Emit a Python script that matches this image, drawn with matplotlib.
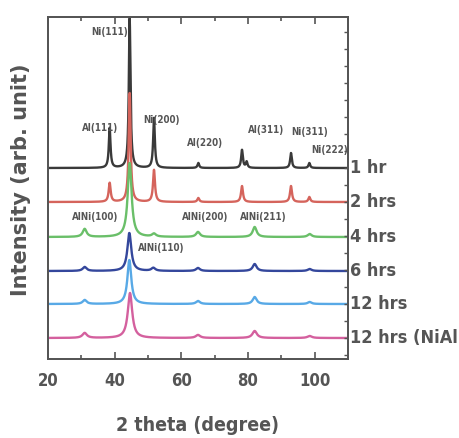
import matplotlib.pyplot as plt
import numpy as np

# sample names and vertical offsets of each pattern (arb. units)
samples = ['1 hr', '2 hrs', '4 hrs', '6 hrs', '12 hrs', '12 hrs (NiAl']
offsets = [191, 157, 122, 88, 55, 21]
colors = ['#3a3a3a', '#d5645c', '#6abf69', '#34479c', '#58a9e6', '#d4609e']

# peak positions (2 theta), heights and widths
pos_1hr = [38.5, 44.5, 51.8, 65.1, 78.2, 79.6, 92.9, 98.4]
hgt_1hr = [40, 150, 50, 5, 18, 6, 15, 5]
pos_2hrs = [38.5, 44.5, 51.8, 65.1, 78.2, 92.9, 98.4]
hgt_2hrs = [19, 109, 32, 4, 16, 16, 5]
pos_4hrs = [31.0, 44.5, 51.8, 65.0, 82.0, 98.5]
hgt_4hrs = [8, 74, 3, 5, 10, 3]
pos_6hrs = [31.0, 44.4, 51.6, 65.0, 82.0, 98.5]
hgt_6hrs = [4, 38, 3, 3, 7, 2]
pos_12hrs = [31.0, 44.4, 65.0, 82.0, 98.5]
hgt_12hrs = [4, 44, 3, 7, 2]
pos_nial = [31.0, 44.6, 65.0, 82.0, 98.5]
hgt_nial = [5, 45, 3, 7, 2]
widths = [0.3, 0.35, 0.7, 0.7, 0.7, 0.8]

peaks = [(pos_1hr, hgt_1hr), (pos_2hrs, hgt_2hrs), (pos_4hrs, hgt_4hrs),
         (pos_6hrs, hgt_6hrs), (pos_12hrs, hgt_12hrs), (pos_nial, hgt_nial)]

# peak labels: text, x, y
labels = [('Ni(111)', 38.6, 327), ('Al(111)', 35.5, 231), ('Ni(200)', 54.0, 239),
          ('Al(220)', 67.0, 216), ('Al(311)', 85.5, 229), ('Ni(311)', 98.5, 227),
          ('Ni(222)', 104.4, 209), ('AlNi(100)', 34.0, 142), ('AlNi(200)', 67.0, 142),
          ('AlNi(211)', 84.5, 142), ('AlNi(110)', 54.0, 111)]

gray = '#555555'
x = np.linspace(20, 110, 3000)

fig = plt.figure(figsize=(4.6, 4.38), dpi=100)
ax = fig.add_axes([48/460, 1 - 359/438, 300/460, 342/438])

for (p, h), w, off, c, name in zip(peaks, widths, offsets, colors, samples):
    y = np.full_like(x, off, dtype=float)
    for xp, hp in zip(p, h):
        y += hp / (1 + ((x - xp) / w) ** 2)
    ax.plot(x, y, color=c, lw=1.7)
    ax.text(110.6, off, name, color=gray, fontsize=13, fontweight='bold', fontstretch='condensed',
            va='center', ha='left', clip_on=False)

for t, tx, ty in labels:
    ax.text(tx, ty, t, color=gray, fontsize=7, fontweight='bold', fontstretch='condensed',
            ha='center', va='center')

ax.set_xlim(20, 110)
ax.set_ylim(0, 342)
ax.set_xticks([20, 40, 60, 80, 100])
ax.set_xticks([30, 50, 70, 90, 110], minor=True)
ax.set_yticks([])
ax.tick_params(axis='x', direction='in', top=True, length=5, width=1.2, colors=gray,
               labelsize=12, pad=9)
ax.tick_params(axis='x', which='minor', direction='in', top=True, length=3, width=1.2, colors=gray)
for lab in ax.get_xticklabels():
    lab.set_fontweight('bold')
    lab.set_fontstretch('condensed')

# right axis minor ticks
ax2 = ax.twinx()
ax2.set_ylim(0, 342)
ax2.set_yticks(np.arange(4, 342, 17))
ax2.set_yticklabels([])
ax2.tick_params(axis='y', direction='in', length=3, width=1.0, colors=gray)

for a in (ax, ax2):
    for s in a.spines.values():
        s.set_color(gray)
        s.set_linewidth(1.3)

ax.set_xlabel('2 theta (degree)', color=gray, fontsize=14, fontweight='bold',
              fontstretch='condensed', labelpad=19)
fig.text(21/460, 1 - 180/438, 'Intensity (arb. unit)', rotation=90, color=gray,
         fontsize=15, fontweight='bold', ha='center', va='center')

fig.savefig('out.png', dpi=100)
